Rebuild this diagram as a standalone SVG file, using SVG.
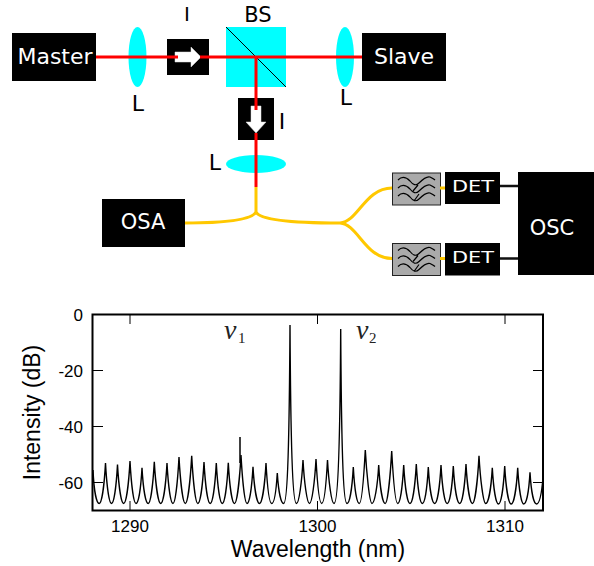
<svg xmlns="http://www.w3.org/2000/svg" width="594" height="566" viewBox="0 0 594 566">
<style>
.box{fill:#000}
.lens{fill:#0ff}
.dj{font-family:"DejaVu Sans",sans-serif}
.w{fill:#fff;text-anchor:middle}
.k{fill:#000;text-anchor:middle}
.ar{fill:#fff;stroke:#ddd;stroke-width:.5}
.red{stroke:#f00;stroke-width:3;fill:none}
.fib{stroke:#ffc800;stroke-width:3;fill:none}
.blk{stroke:#111;stroke-width:2.5;fill:none}
.flt{fill:#aaa;stroke:#222;stroke-width:1}
.wv{fill:none;stroke:#000;stroke-width:1.2}
.pl{font-family:"Liberation Sans",Arial,sans-serif;fill:#000}
.tk{stroke:#000;stroke-width:1;fill:none}
</style>
<defs>
<path id="waves" class="wv" d="M398 180C402 176 406 177 410 181C413 185 416 186 419 183C423 179 427 176 430 177C432 178 434 179 435 180M398 188C402 184 406 185 410 189C413 193 416 194 419 191C423 187 427 184 430 185C432 186 434 187 435 188M398 196C402 192 406 193 410 197C413 201 416 202 419 199C423 195 427 192 430 193C432 194 434 195 435 196M418 185L413 191M419 194L414 201"/>
</defs>
<g id="beamsplitter">
<rect x="226" y="27" width="60" height="60" fill="#0ff"/>
<path d="M226 27L286 87" stroke="#000" stroke-width="1"/>
<text class="dj k" x="258" y="22" font-size="21">BS</text>
</g>
<g id="lens1"><ellipse class="lens" cx="137.5" cy="57" rx="9" ry="30"/><text class="dj k" x="138" y="111" font-size="22">L</text></g>
<g id="lens2"><ellipse class="lens" cx="345" cy="57" rx="9" ry="30"/><text class="dj k" x="346" y="105" font-size="22">L</text></g>
<g id="lens3"><ellipse class="lens" cx="256" cy="164" rx="30" ry="9"/><text class="dj k" x="215" y="170" font-size="22">L</text></g>
<g id="master"><rect class="box" x="12" y="33" width="84" height="48"/><text class="dj w" x="55" y="64" font-size="22">Master</text></g>
<g id="slave"><rect class="box" x="362" y="33" width="84" height="48"/><text class="dj w" x="404" y="64" font-size="22">Slave</text></g>
<g id="isolator1"><rect class="box" x="167" y="39" width="42" height="36"/><path class="ar" d="M175 52H191V47L201 57L191 67V62H175Z"/><text class="dj k" x="187" y="21" font-size="20">I</text></g>
<g id="isolator2"><rect class="box" x="238" y="98" width="36" height="42"/><path class="ar" d="M251 106H261V122H266L256 133L246 122H251Z"/><text class="dj k" x="282" y="129" font-size="22">I</text></g>
<g id="osa"><rect class="box" x="102" y="199" width="83" height="48"/><text class="dj w" x="143" y="229" font-size="21">OSA</text></g>
<g id="filter1"><rect class="flt" x="392.500" y="173" width="48" height="32"/><use href="#waves"/></g>
<g id="filter2"><rect class="flt" x="392.500" y="243.500" width="48" height="32"/><use href="#waves" y="70.500"/></g>
<g id="det1"><rect class="box" x="445" y="172" width="55" height="32"/><text class="dj w" x="473" y="192" font-size="15" textLength="42" lengthAdjust="spacingAndGlyphs">DET</text></g>
<g id="det2"><rect class="box" x="445" y="243" width="55" height="32.500"/><text class="dj w" x="473" y="263" font-size="15" textLength="42" lengthAdjust="spacingAndGlyphs">DET</text></g>
<g id="osc"><rect class="box" x="518" y="172" width="76" height="103"/><text class="dj w" x="552" y="235" font-size="21">OSC</text></g>
<g id="connectors">
<path class="red" d="M96 57H178M200 57H362M256 57V110M256 133V187"/>
<path class="fib" d="M256 187V212C252 220 225 223 185 223M256 212C260 220 290 223 340 223M340 223C358 222 365 188 392 188M340 223C358 224 365 258.500 392 258.500M440 188H445M440 258.500H445"/>
<path class="blk" d="M500 186H518M500 258.500H518"/>
</g>
<g id="plot">
<path d="M92.500 314.500H543V510.500H92.500Z" fill="none" stroke="#000" stroke-width="2"/>
<path class="tk" d="M130 315V324M317.500 315V324M505 315V324M130 510V501M317.500 510V501M505 510V501M93 370.500H103M93 426.500H103M93 482.500H103M543 370.500H533M543 426.500H533M543 482.500H533"/>
<path fill="none" stroke="#000" stroke-width="1.400" d="M93 470C94 492 96.700 503.500 99.200 503.500C101.700 503.500 104.300 485 105.500 463C106.700 485 109 503.500 111.500 503.500C114 503.500 116.300 486 117.500 464.500C118.700 486 121.200 503.500 123.700 503.500C126.200 503.500 128.800 483 130 461C131.200 483 133.500 503.500 136 503.500C138.500 503.500 140.800 489 142 467.700C143.200 489 145.700 503.500 148.200 503.500C150.700 503.500 153.100 483 154.300 461.700C155.500 483 158.200 503.500 160.700 503.500C163.200 503.500 165.800 485 167 463C168.200 485 170.500 503.500 173 503.500C175.500 503.500 177.800 479 179 457C180.200 479 182.800 503.500 185.300 503.500C187.800 503.500 190.500 478 191.700 455.700C192.900 478 195.300 503.500 197.800 503.500C200.300 503.500 202.800 484 204 462C205.200 484 207.700 503.500 210.200 503.500C212.700 503.500 215.100 485 216.300 463C217.500 485 219.800 503.500 222.300 503.500C224.800 503.500 227.100 485 228.300 462.700C229.500 485 232 503.500 234.500 503.500C237 503.500 239.800 477 241 455C242.200 477 244.500 503.500 247 503.500C249.500 503.500 251.800 488 253 466.700C254.200 488 257 503.500 259.500 503.500C262 503.500 264.800 485 266 463C267.200 485 269.200 503.500 271.700 503.500C274.200 503.500 276.100 492 277.300 473C278.500 492 281.100 503.500 283.600 503.500C286.600 503.500 289.200 470 290 325C290.800 470 293.500 503.500 296.500 503.500C299 503.500 301.800 482 303 460C304.200 482 307 503.500 309.500 503.500C312 503.500 314.800 481 316 459C317.200 481 319.200 503.500 321.700 503.500C324.200 503.500 326.300 482 327.500 460C328.700 482 331.500 503.500 334 503.500C337 503.500 339.900 470 340.700 329C341.500 470 344 503.500 347 503.500C349.500 503.500 352.100 489 353.300 467C354.500 489 356.800 503.500 359.300 503.500C361.800 503.500 364.100 472 365.300 450C366.500 472 369.500 503.500 372 503.500C374.500 503.500 377.500 487 378.700 465C379.900 487 382.700 503.500 385.200 503.500C387.700 503.500 390.500 473 391.700 451C392.900 473 395.200 503.500 397.700 503.500C400.200 503.500 402.500 487 403.700 465C404.900 487 407.500 503.500 410 503.500C412.500 503.500 415.100 486 416.300 464C417.500 486 419.800 503.500 422.300 503.500C424.800 503.500 427.100 489 428.300 467C429.500 489 432.200 503.500 434.700 503.500C437.200 503.500 439.800 487 441 465C442.200 487 444.700 503.500 447.200 503.500C449.700 503.500 452.100 488 453.300 466C454.500 488 457.200 503.500 459.700 503.500C462.200 503.500 464.800 486 466 464C467.200 486 470 503.500 472.500 503.500C475 503.500 477.800 478 479 455.700C480.200 478 483.200 503.500 485.700 503.500C488.200 503.500 491.100 489 492.300 467.700C493.500 489 496 504 498.500 504C501 504 503.500 488 504.700 466C505.900 488 508.700 504 511.200 504C513.700 504 516.500 489 517.700 467.700C518.900 489 521.300 504 523.800 504C526.300 504 528.800 493 530 472.300C531.200 493 534 504 536.500 504C539 504 541.500 495 543 478"/>
<path d="M240 437V463" stroke="#000" stroke-width="1.500"/>
<g class="pl" font-size="17" text-anchor="middle">
<text x="130" y="532">1290</text><text x="317.500" y="532">1300</text><text x="505" y="532">1310</text>
</g>
<g class="pl" font-size="17" text-anchor="end">
<text x="83" y="321">0</text><text x="83" y="377">-20</text><text x="83" y="433">-40</text><text x="83" y="489">-60</text>
</g>
<text class="pl" x="318" y="557" font-size="23" text-anchor="middle">Wavelength (nm)</text>
<text class="pl" transform="translate(40 412.500) rotate(-90)" font-size="23" text-anchor="middle">Intensity (dB)</text>
<text x="224" y="339" font-family="Liberation Serif,serif" font-style="italic" font-size="28" fill="#222">ν</text>
<text x="238" y="343" font-family="Liberation Serif,serif" font-size="15" fill="#222">1</text>
<text x="356" y="339" font-family="Liberation Serif,serif" font-style="italic" font-size="28" fill="#222">ν</text>
<text x="369" y="343" font-family="Liberation Serif,serif" font-size="15" fill="#222">2</text>
</g>
</svg>
